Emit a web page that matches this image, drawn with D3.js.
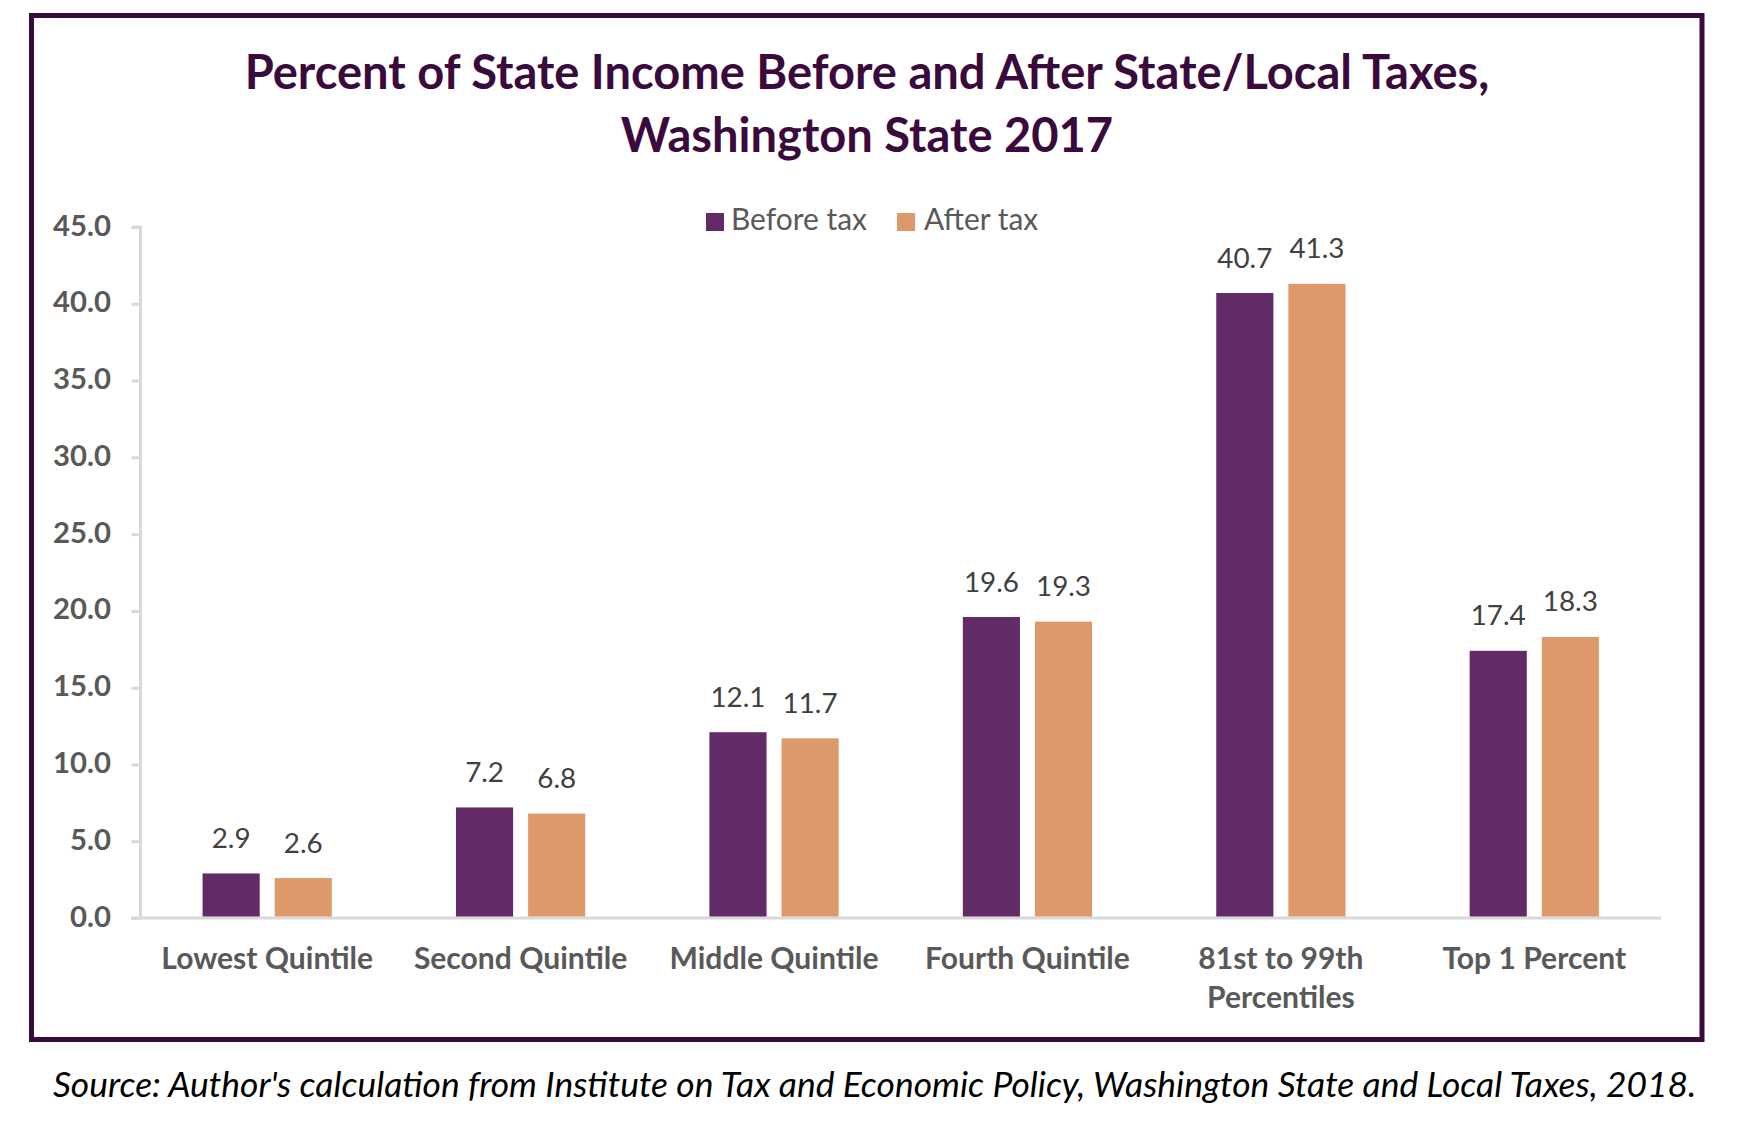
<!DOCTYPE html>
<html>
<head>
<meta charset="utf-8">
<script src="https://cdn.jsdelivr.net/npm/d3@7"></script>
<style>
  html, body { margin: 0; padding: 0; background: #ffffff; }
  svg { display: block; }
</style>
</head>
<body>
<svg id="chart" width="1746" height="1142"></svg>
<script>
// ---- Data ----
const categories = [
  ["Lowest Quintile"],
  ["Second Quintile"],
  ["Middle Quintile"],
  ["Fourth Quintile"],
  ["81st to 99th", "Percentiles"],
  ["Top 1 Percent"]
];
const seriesNames = ["Before tax", "After tax"];
const beforeTax = [2.9, 7.2, 12.1, 19.6, 40.7, 17.4];
const afterTax  = [2.6, 6.8, 11.7, 19.3, 41.3, 18.3];
const yTicks = [0, 5, 10, 15, 20, 25, 30, 35, 40, 45];
const titleLines = ["Percent of State Income Before and After State/Local Taxes,", "Washington State 2017"];
const sourceText = "Source: Author's calculation from Institute on Tax and Economic Policy, Washington State and Local Taxes, 2018.";

// ---- Styles ----
const FONT = "Lato, 'Open Sans', 'Liberation Sans', sans-serif";
const colors = { "Before tax": "#622A67", "After tax": "#DE996B" };
const frameColor = "#3B0A3D";
const axisGray = "#D9D9D9";
const labelGray = "#595959";
const valueGray = "#404040";

const svg = d3.select("#chart");
const catKeys = categories.map(c => c.join(" "));

function fit(sel, target) {
  sel.attr("font-size", 100);
  const w = sel.node().getComputedTextLength();
  const fs = 100 * target / w;
  sel.attr("font-size", fs);
  return fs;
}

// Frame
svg.append("rect")
  .attr("x", 31.5).attr("y", 15.5)
  .attr("width", 1670.5).attr("height", 1024)
  .attr("fill", "none").attr("stroke", frameColor).attr("stroke-width", 5);

// Title
const t1 = svg.append("text").attr("x", 867).attr("y", 89)
  .attr("text-anchor", "middle").attr("font-family", FONT).attr("font-weight", 700)
  .attr("fill", frameColor).text(titleLines[0]);
const titleFs = fit(t1, 1245);
svg.append("text").attr("x", 867).attr("y", 151.5)
  .attr("text-anchor", "middle").attr("font-family", FONT).attr("font-weight", 700)
  .attr("font-size", titleFs).attr("fill", frameColor).text(titleLines[1]);

// Scales
const x0 = d3.scaleBand().domain(catKeys).range([140.5, 1661]).paddingInner(0.49).paddingOuter(0.245);
const x1 = d3.scaleBand().domain(seriesNames).range([0, x0.bandwidth()]).paddingInner(0.208).paddingOuter(0);
const y = d3.scaleLinear().domain([0, 45]).range([918, 227]);

// Y axis
const yAxis = svg.append("g").attr("transform", "translate(140.5,0)")
  .call(d3.axisLeft(y).tickValues(yTicks).tickSize(9).tickPadding(30).tickFormat(d3.format(".1f")));
yAxis.select(".domain").attr("stroke", axisGray).attr("stroke-width", 3)
  .attr("d", `M-9,${y(45)}H0V${y(0)}`);
yAxis.selectAll(".tick line").attr("stroke", axisGray).attr("stroke-width", 3);
const tickTexts = yAxis.selectAll(".tick text")
  .attr("font-family", FONT).attr("font-weight", 700).attr("fill", labelGray)
  .attr("dy", null).attr("y", 8).attr("x", -29.5);
const tickFs = fit(tickTexts.filter(d => d === 45), 58);
tickTexts.attr("font-size", tickFs);

// X axis line
svg.append("line").attr("x1", 131).attr("x2", 1661).attr("y1", y(0)).attr("y2", y(0))
  .attr("stroke", axisGray).attr("stroke-width", 3);

// Bars
const groups = svg.append("g").selectAll("g").data(catKeys).join("g")
  .attr("transform", d => `translate(${x0(d)},0)`);
const rows = (i) => [
  { s: "Before tax", v: beforeTax[i] },
  { s: "After tax", v: afterTax[i] }
];
groups.each(function(k, i) {
  const g = d3.select(this);
  g.selectAll("rect").data(rows(i)).join("rect")
    .attr("x", d => x1(d.s)).attr("width", x1.bandwidth())
    .attr("y", d => y(d.v)).attr("height", d => y(0) - y(d.v) - 1.5)
    .attr("fill", d => colors[d.s]);
});

// Value labels
const probe = svg.append("text").attr("font-family", FONT).text("19.6");
const valFs = fit(probe, 55);
probe.remove();
groups.each(function(k, i) {
  const g = d3.select(this);
  g.selectAll("text.val").data(rows(i)).join("text").attr("class", "val")
    .attr("x", d => x1(d.s) + x1.bandwidth() / 2)
    .attr("y", d => y(d.v) - 25.5)
    .attr("text-anchor", "middle").attr("font-family", FONT)
    .attr("font-size", valFs).attr("fill", valueGray)
    .text(d => d.v.toFixed(1));
});

// Category labels
const probe2 = svg.append("text").attr("font-family", FONT).attr("font-weight", 700).text("Middle Quintile");
const catFs = fit(probe2, 209);
probe2.remove();
categories.forEach((lines, i) => {
  const cx = x0(catKeys[i]) + x0.bandwidth() / 2;
  lines.forEach((ln, j) => {
    svg.append("text").attr("x", cx).attr("y", 969 + j * 39)
      .attr("text-anchor", "middle").attr("font-family", FONT).attr("font-weight", 700)
      .attr("font-size", catFs).attr("fill", labelGray).text(ln);
  });
});

// Legend
const probe3 = svg.append("text").attr("font-family", FONT).text("Before tax");
const legFs = fit(probe3, 136);
probe3.remove();
const legendPos = [ { sx: 706, tx: 731 }, { sx: 897, tx: 924 } ];
seriesNames.forEach((s, i) => {
  svg.append("rect").attr("x", legendPos[i].sx).attr("y", 213).attr("width", 18).attr("height", 18)
    .attr("fill", colors[s]);
  svg.append("text").attr("x", legendPos[i].tx).attr("y", 230)
    .attr("font-family", FONT).attr("font-size", legFs).attr("fill", labelGray).text(s);
});

// Source
const src = svg.append("text").attr("x", 53).attr("y", 1097)
  .attr("font-family", FONT).attr("font-style", "italic").attr("fill", "#000000").text(sourceText);
fit(src, 1644);
</script>
</body>
</html>
